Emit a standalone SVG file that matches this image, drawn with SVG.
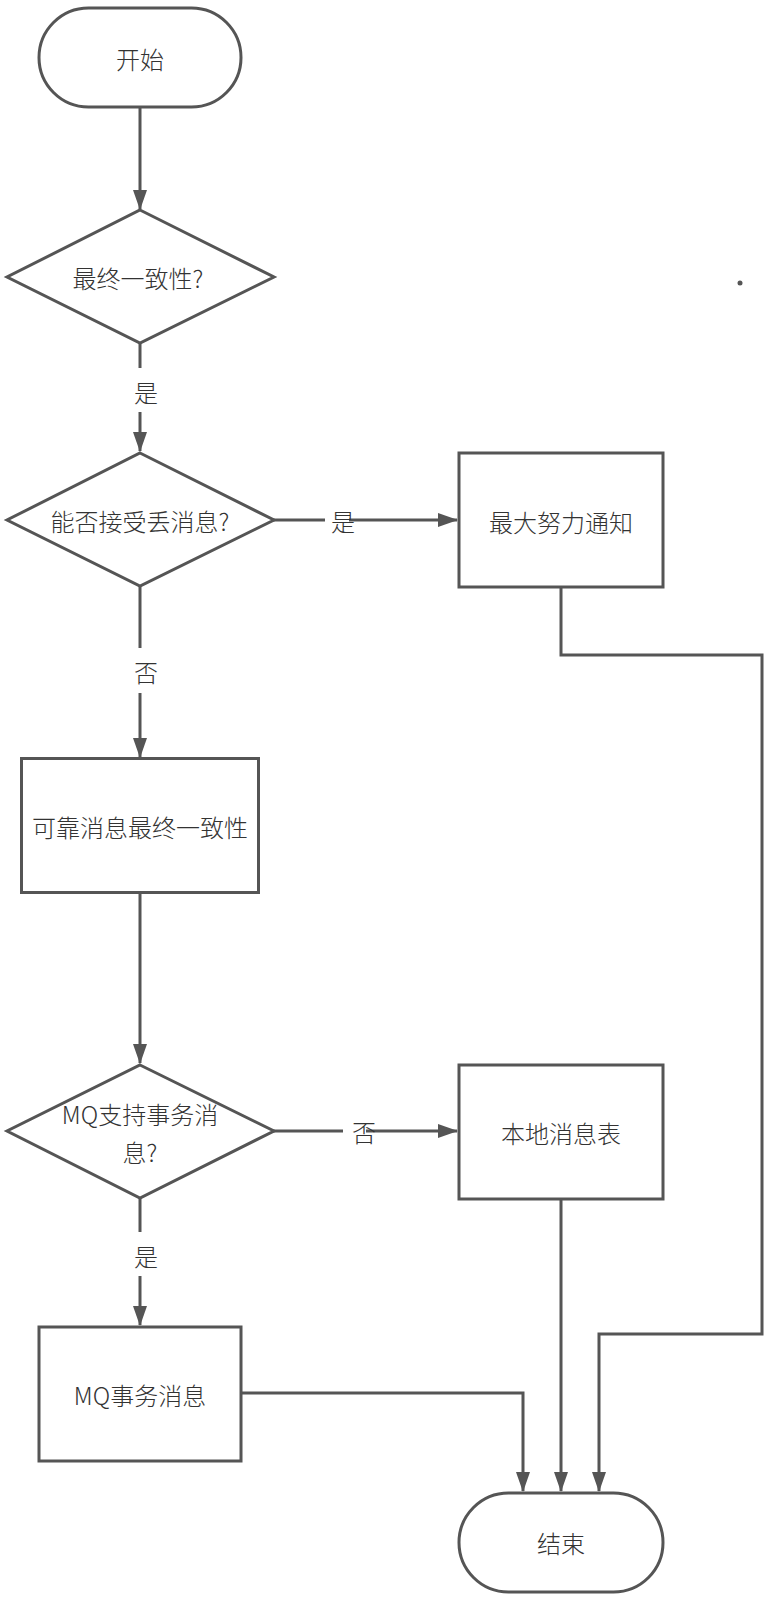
<svg xmlns="http://www.w3.org/2000/svg" width="776" height="1600" viewBox="0 0 776 1600">
<style>
.shape{fill:#fff;stroke:#555;stroke-width:3}
.line{fill:none;stroke:#555;stroke-width:3}
.t{font-family:"Noto Sans CJK SC","Noto Sans",sans-serif;font-size:24px;font-weight:300;fill:#333;text-anchor:middle;dominant-baseline:central}
.lbl{fill:#fff;stroke:none}
</style>
<defs>
<marker id="arr" markerWidth="20" markerHeight="14" refX="19" refY="7" orient="auto" markerUnits="userSpaceOnUse">
<path d="M0,0 L20,7 L0,14 Z" fill="#555"/>
</marker>
</defs>
<rect width="776" height="1600" fill="#fff"/>
<g id="connectors">
<line class="line" x1="140" y1="108" x2="140" y2="209" marker-end="url(#arr)"/>
<line class="line" x1="140" y1="343" x2="140" y2="451" marker-end="url(#arr)"/>
<rect class="lbl" x="128" y="368" width="30" height="44"/>
<text class="t" x="146" y="391">是</text>
<line class="line" x1="273" y1="520" x2="457" y2="520" marker-end="url(#arr)"/>
<rect class="lbl" x="325" y="506" width="24" height="28"/>
<text class="t" x="343" y="520">是</text>
<line class="line" x1="140" y1="586" x2="140" y2="757" marker-end="url(#arr)"/>
<rect class="lbl" x="128" y="648" width="30" height="45"/>
<text class="t" x="146" y="671">否</text>
<polyline class="line" points="561,587 561,655 762,655 762,1334 599,1334 599,1491" marker-end="url(#arr)"/>
<line class="line" x1="140" y1="892" x2="140" y2="1063" marker-end="url(#arr)"/>
<line class="line" x1="273" y1="1131" x2="457" y2="1131" marker-end="url(#arr)"/>
<rect class="lbl" x="343" y="1117" width="23" height="28"/>
<text class="t" x="364" y="1131">否</text>
<line class="line" x1="561" y1="1198" x2="561" y2="1491" marker-end="url(#arr)"/>
<line class="line" x1="140" y1="1197" x2="140" y2="1325" marker-end="url(#arr)"/>
<rect class="lbl" x="128" y="1232" width="30" height="44"/>
<text class="t" x="146" y="1255">是</text>
<polyline class="line" points="241,1393 523,1393 523,1491" marker-end="url(#arr)"/>
</g>
<g id="start">
<rect class="shape" x="39" y="8" width="202" height="99" rx="49.5" ry="49.5"/>
<text class="t" x="140" y="58">开始</text>
</g>
<g id="decision1">
<polygon class="shape" points="140,210 274,277 140,343 7,277"/>
<text class="t" x="138" y="277">最终一致性?</text>
</g>
<g id="decision2">
<polygon class="shape" points="140,453 274,520 140,586 7,520"/>
<text class="t" x="140" y="520">能否接受丢消息?</text>
</g>
<g id="besteffort">
<rect class="shape" x="459" y="453" width="204" height="134"/>
<text class="t" x="561" y="521">最大努力通知</text>
</g>
<g id="reliable">
<rect class="shape" x="21.5" y="758.5" width="237" height="134"/>
<text class="t" x="140" y="826">可靠消息最终一致性</text>
</g>
<g id="decision3">
<polygon class="shape" points="140,1065 274,1131 140,1198 7,1131"/>
<text class="t" x="140" y="1113">MQ支持事务消</text>
<text class="t" x="140" y="1151">息?</text>
</g>
<g id="localtable">
<rect class="shape" x="459" y="1065" width="204" height="134"/>
<text class="t" x="561" y="1132">本地消息表</text>
</g>
<g id="mqtx">
<rect class="shape" x="39" y="1327" width="202" height="134"/>
<text class="t" x="140" y="1394">MQ事务消息</text>
</g>
<g id="end">
<rect class="shape" x="459" y="1493" width="204" height="99" rx="49.5" ry="49.5"/>
<text class="t" x="561" y="1542">结束</text>
</g>
<circle cx="740" cy="283" r="2.5" fill="#555"/>
</svg>
